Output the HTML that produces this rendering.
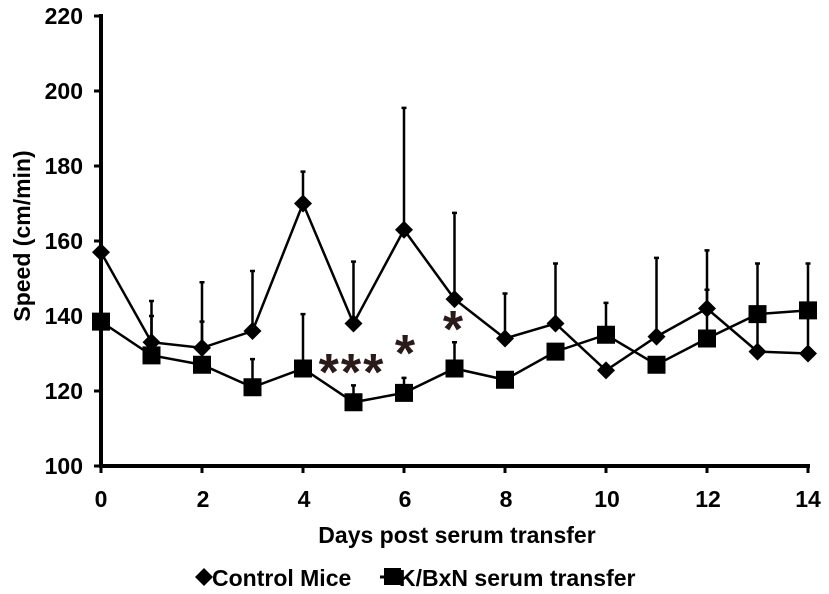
<!DOCTYPE html>
<html><head><style>
html,body{margin:0;padding:0;background:#fff;}
svg{display:block;font-family:"Liberation Sans",Arial,sans-serif;font-weight:bold;}
</style></head><body>
<svg id="s" width="829" height="594" xmlns="http://www.w3.org/2000/svg">
<g font-size="23" text-anchor="end" fill="#000">
<text x="83" y="24">220</text>
<text x="83" y="99">200</text>
<text x="83" y="174">180</text>
<text x="83" y="249">160</text>
<text x="83" y="324">140</text>
<text x="83" y="399">120</text>
<text x="83" y="474">100</text>
</g>
<g font-size="23" text-anchor="middle" fill="#000">
<text x="101" y="507">0</text>
<text x="203" y="507">2</text>
<text x="304" y="507">4</text>
<text x="405" y="507">6</text>
<text x="506" y="507">8</text>
<text x="607" y="507">10</text>
<text x="708" y="507">12</text>
<text x="808" y="507">14</text>
<text x="457" y="543">Days post serum transfer</text>
</g>
<text transform="translate(30,236) rotate(-90)" font-size="23" text-anchor="middle">Speed (cm/min)</text>
<g font-size="52" fill="#2a1a1a" text-anchor="middle">
<text x="352" y="390" letter-spacing="2">***</text>
<text x="405" y="371">*</text>
<text x="453" y="347">*</text>
</g>
<g id="plot"></g>
<g font-size="23">
<polygon points="195,577 204,568 213,577 204,586" fill="#000"/>
<text x="212" y="586">Control Mice</text>
<line x1="380" y1="577" x2="392" y2="577" stroke="#000" stroke-width="3"/>
<rect x="384" y="568" width="17" height="17" fill="#000"/>
<text x="399" y="586">K/BxN serum transfer</text>
</g>
</svg>
<script>
var X=function(d){return 101+d*50.5;},Y=function(v){return 466-(v-100)*3.75;};
var c=[157,133,131.5,136,170,138,163,144.5,134,138,125.5,134.5,142,130.5,130];
var ce=[0,144,149,152,178.5,154.5,195.5,167.5,146,154,0,155.5,157.5,154,154];
var k=[138.5,129.5,127,121,126,117,119.5,126,123,130.5,135,127,134,140.5,141.5];
var ke=[0,140,138.5,128.5,140.5,121.5,123.5,133,0,0,143.5,0,147,0,0];
var h='';
function eb(d,v,e){if(e>v){var x=X(d);h+='<line x1="'+x+'" y1="'+Y(v)+'" x2="'+x+'" y2="'+Y(e)+'" stroke="#000" stroke-width="2.5"/><line x1="'+(x-2.5)+'" y1="'+Y(e)+'" x2="'+(x+2.5)+'" y2="'+Y(e)+'" stroke="#000" stroke-width="2.5"/>';}}
for(var i=0;i<15;i++){eb(i,c[i],ce[i]);eb(i,k[i],ke[i]);}
function pl(a){return a.map(function(v,i){return X(i)+','+Y(v)}).join(' ');}
h+='<polyline points="'+pl(c)+'" fill="none" stroke="#000" stroke-width="2.5"/>';
h+='<polyline points="'+pl(k)+'" fill="none" stroke="#000" stroke-width="2.5"/>';
for(var i=0;i<15;i++){var x=X(i),y=Y(c[i]);h+='<polygon points="'+(x-9)+','+y+' '+x+','+(y-9)+' '+(x+9)+','+y+' '+x+','+(y+9)+'"/>';
y=Y(k[i]);h+='<rect x="'+(x-9)+'" y="'+(y-9)+'" width="18" height="18"/>';}
h+='<line x1="101" y1="14" x2="101" y2="468" stroke="#000" stroke-width="4"/>';
h+='<line x1="99" y1="466" x2="810" y2="466" stroke="#000" stroke-width="4"/>';
[220,200,180,160,140,120,100].forEach(function(v){h+='<line x1="94" y1="'+Y(v)+'" x2="101" y2="'+Y(v)+'" stroke="#000" stroke-width="3"/>';});
for(var i=0;i<=14;i+=2){h+='<line x1="'+X(i)+'" y1="466" x2="'+X(i)+'" y2="473" stroke="#000" stroke-width="3"/>';}
document.getElementById('plot').innerHTML=h;
</script>
</body></html>
